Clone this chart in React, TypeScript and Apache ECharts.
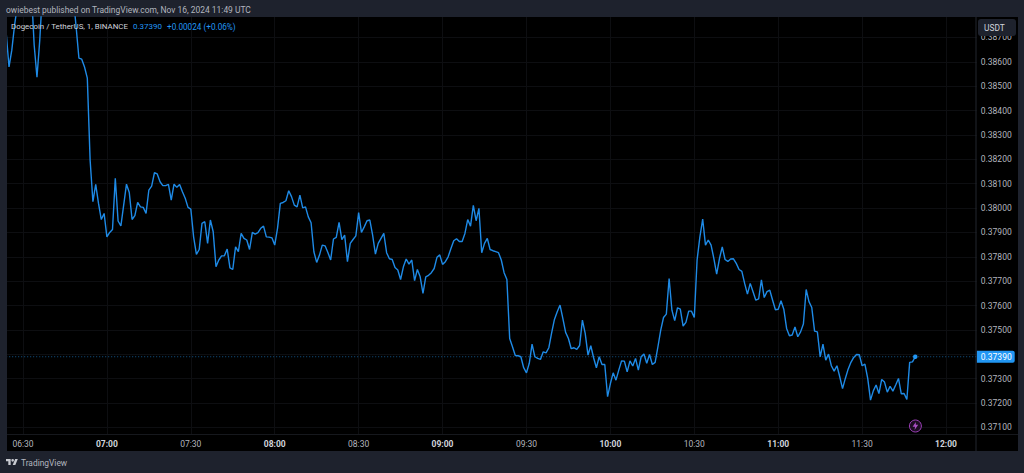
import React, { useEffect, useRef } from "react";
import * as echarts from "echarts";

const firstMinute = 6 * 60 + 24;
const lastMinute = 12 * 60 + 11;
const pad = (n: number) => String(n).padStart(2, "0");
const timeCategories: string[] = [];
for (let t = firstMinute; t <= lastMinute; t++) timeCategories.push(`${pad(Math.floor(t / 60))}:${pad(t % 60)}`);

// Close per minute, part by part
const prices0624 = [0.38718,0.38579,0.38648,0.38751,0.38833,0.38886,0.38920,0.38880,0.38860,0.38895,0.38669,0.38537,0.38689,0.38895,0.38950,0.38920,0.38990,0.38960,0.39010,0.38980,0.38930,0.38960,0.38910,0.38880,0.38866,0.38743,0.38615,0.38611,0.38579,0.38533,0.38197,0.38026,0.38097,0.38019,0.37953,0.37978];
const prices0700 = [0.37882,0.37900,0.37912,0.38122,0.37947,0.37927,0.38012,0.38098,0.38064,0.37953,0.37969,0.38023,0.38005,0.38003,0.37978,0.38074,0.38090,0.38145,0.38140,0.38108,0.38092,0.38092,0.38097,0.38033,0.38098,0.38085,0.38097,0.38067,0.38040,0.38003];
const prices0730 = [0.37996,0.37882,0.37810,0.37830,0.37937,0.37944,0.37855,0.37951,0.37903,0.37759,0.37787,0.37804,0.37804,0.37832,0.37755,0.37748,0.37841,0.37821,0.37896,0.37876,0.37869,0.37830,0.37900,0.37893,0.37899,0.37917,0.37926,0.37882,0.37881,0.37878];
const prices0800 = [0.37848,0.37917,0.38019,0.38023,0.38030,0.38071,0.38047,0.38012,0.38005,0.38053,0.38001,0.38005,0.37964,0.37940,0.37821,0.37777,0.37807,0.37848,0.37845,0.37818,0.37787,0.37873,0.37880,0.37941,0.37871,0.37889,0.37780,0.37855,0.37871,0.37886];
const prices0830 = [0.37981,0.37900,0.37923,0.37948,0.37951,0.37889,0.37811,0.37855,0.37876,0.37896,0.37817,0.37792,0.37789,0.37756,0.37746,0.37707,0.37759,0.37791,0.37770,0.37787,0.37702,0.37748,0.37718,0.37650,0.37718,0.37724,0.37735,0.37752,0.37798,0.37808];
const prices0900 = [0.37769,0.37780,0.37800,0.37834,0.37866,0.37874,0.37863,0.37863,0.37896,0.37953,0.37926,0.38011,0.37948,0.37999,0.37817,0.37855,0.37876,0.37830,0.37825,0.37821,0.37817,0.37787,0.37735,0.37707,0.37465,0.37431,0.37395,0.37394,0.37390,0.37345];
const prices0930 = [0.37324,0.37363,0.37442,0.37390,0.37383,0.37379,0.37410,0.37406,0.37427,0.37488,0.37543,0.37575,0.37602,0.37547,0.37490,0.37465,0.37423,0.37427,0.37420,0.37436,0.37540,0.37486,0.37397,0.37435,0.37386,0.37345,0.37390,0.37358,0.37358,0.37226];
const prices1000 = [0.37280,0.37324,0.37294,0.37335,0.37373,0.37372,0.37328,0.37373,0.37352,0.37383,0.37335,0.37390,0.37401,0.37363,0.37399,0.37358,0.37367,0.37431,0.37499,0.37551,0.37565,0.37711,0.37581,0.37538,0.37591,0.37585,0.37516,0.37531,0.37577,0.37577];
const prices1030 = [0.37551,0.37787,0.37882,0.37955,0.37848,0.37869,0.37848,0.37793,0.37729,0.37793,0.37841,0.37789,0.37781,0.37791,0.37792,0.37773,0.37748,0.37740,0.37691,0.37647,0.37691,0.37657,0.37622,0.37627,0.37705,0.37633,0.37657,0.37663,0.37622,0.37583];
const prices1100 = [0.37585,0.37620,0.37585,0.37506,0.37476,0.37479,0.37512,0.37472,0.37492,0.37524,0.37666,0.37616,0.37592,0.37495,0.37492,0.37390,0.37442,0.37376,0.37401,0.37353,0.37331,0.37353,0.37308,0.37259,0.37301,0.37339,0.37367,0.37387,0.37399,0.37398];
const prices1130 = [0.37353,0.37360,0.37301,0.37212,0.37250,0.37274,0.37239,0.37297,0.37286,0.37245,0.37269,0.37249,0.37274,0.37301,0.37238,0.37239,0.37215,0.37367,0.37369,0.37390];
const prices = [...prices0624,...prices0700,...prices0730,...prices0800,...prices0830,...prices0900,...prices0930,...prices1000,...prices1030,...prices1100,...prices1130];

const gridTicks = [0.371,0.372,0.373,0.374,0.375,0.376,0.377,0.378,0.379,0.38,0.381,0.382,0.383,0.384,0.385,0.386,0.387];
const priceLabels = [0.371,0.372,0.373,0.375,0.376,0.377,0.378,0.379,0.38,0.381,0.382,0.383,0.384,0.385,0.386,0.387];
const lastPrice = 0.3739;
const lastPriceLine = timeCategories.map(() => lastPrice);
const headerText = "owiebest published on TradingView.com, Nov 16, 2024 11:49 UTC";
const legendTitle = "Dogecoin / TetherUS, 1, BINANCE";
const legendPrice = "0.37390";
const legendChange = "+0.00024 (+0.06%)";

const FONT = "Roboto, sans-serif";
const BLUE = "#2196f3";
const GRID = "#0d0e11";
const PRICE_MIN = 0.37073;
const PRICE_MAX = 0.38784;

echarts.graphic.registerShape("tvlogo", echarts.graphic.extendPath("M14 22H7V11H0V4h14zM28 22h-8l7.5-18h8zM24 8a4 4 0 1 1-8 0a4 4 0 1 1 8 0z", {}));
echarts.graphic.registerShape("bolt", echarts.graphic.extendPath("M13 2L5 14h6l-1 8L19 9h-6z", {}));

export default function App() {
  const ref = useRef<HTMLDivElement>(null);
  useEffect(() => {
    const chart = echarts.init(ref.current!, undefined, { renderer: "svg" });
    const isHalfHour = (_: number, v: string) => v.endsWith(":00") || v.endsWith(":30");
    chart.setOption({
      animation: false,
      backgroundColor: "#1e222d",
      grid: { left: 6.2, right: 47.2, top: 17, bottom: 39, containLabel: false },
      xAxis: {
        type: "category",
        data: timeCategories,
        boundaryGap: false,
        axisLine: { show: false },
        axisTick: { show: false },
        splitLine: { show: true, interval: isHalfHour, lineStyle: { color: GRID, width: 1 } },
        axisLabel: {
          interval: isHalfHour,
          margin: 5,
          hideOverlap: false,
          fontFamily: FONT,
          fontSize: 8.5,
          color: "#b2b5be",
          formatter: (v: string) => (v.endsWith(":00") ? `{b|${v}}` : v),
          rich: { b: { fontFamily: FONT, fontSize: 8.5, fontWeight: "bold", color: "#d1d4dc" } },
        },
      },
      yAxis: [
        {
          type: "value",
          position: "right",
          min: PRICE_MIN,
          max: PRICE_MAX,
          scale: true,
          axisLine: { show: false },
          axisTick: { show: false, customValues: gridTicks },
          splitLine: { show: true, lineStyle: { color: GRID, width: 1 } },
          axisLabel: {
            customValues: priceLabels,
            margin: 4,
            fontFamily: FONT,
            fontSize: 8.5,
            color: "#b2b5be",
            formatter: (v: number) => v.toFixed(5),
          },
        },
        {
          type: "value",
          position: "right",
          min: PRICE_MIN,
          max: PRICE_MAX,
          scale: true,
          axisLine: { show: false },
          axisTick: { show: false, customValues: [lastPrice] },
          splitLine: { show: false },
          axisLabel: {
            customValues: [lastPrice],
            margin: 0,
            fontFamily: FONT,
            fontSize: 8.5,
            color: "#ffffff",
            backgroundColor: BLUE,
            padding: [2, 3, 1, 4],
            borderRadius: [0, 2, 2, 0],
            formatter: (v: number) => v.toFixed(5),
          },
        },
      ],
      series: [
        {
          type: "line",
          data: lastPriceLine,
          symbol: "none",
          silent: true,
          lineStyle: { color: "#14578d", type: [1, 2], width: 1 },
        },
        {
          type: "line",
          data: prices,
          symbol: "none",
          clip: true,
          lineStyle: { color: "#1e8ae6", width: 1.4 },
          markPoint: {
            silent: true,
            symbol: "circle",
            symbolSize: 4.5,
            itemStyle: { color: BLUE },
            label: { show: false },
            data: [{ coord: [timeCategories[prices.length - 1], lastPrice] }],
          },
        },
      ],
      graphic: [
        { type: "rect", z: -10, shape: { x: 7, y: 17, width: 1011, height: 434 }, style: { fill: "#000" } },
        { type: "rect", z: 50, shape: { x: 0, y: 0, width: 7, height: 473 }, style: { fill: "#1e222d" } },
        { type: "line", z: 50, shape: { x1: 976, y1: 17, x2: 976, y2: 451 }, style: { stroke: "#23262e", lineWidth: 1 } },
        { type: "line", z: 50, shape: { x1: 7, y1: 434.5, x2: 1018, y2: 434.5 }, style: { stroke: "#16181d", lineWidth: 1 } },
        { type: "text", z: 60, x: 6, y: 9.5, style: { text: headerText, fill: "#b2b5be", font: `8.45px ${FONT}`, textVerticalAlign: "middle" } },
        { type: "text", z: 60, x: 11, y: 26.5, style: { text: legendTitle, fill: "#d1d4dc", font: `7.9px ${FONT}`, textVerticalAlign: "middle" } },
        { type: "text", z: 60, x: 133, y: 26.5, style: { text: legendPrice, fill: BLUE, font: `8px ${FONT}`, textVerticalAlign: "middle" } },
        { type: "text", z: 60, x: 167, y: 26.5, style: { text: legendChange, fill: BLUE, font: `8.2px ${FONT}`, textVerticalAlign: "middle" } },
        { type: "rect", z: 60, shape: { x: 978, y: 19, width: 38, height: 17, r: 3 }, style: { fill: "#1e222d" } },
        { type: "text", z: 61, x: 984, y: 27.5, style: { text: "USDT", fill: "#d1d4dc", font: `8.4px ${FONT}`, textVerticalAlign: "middle" } },
        { type: "tvlogo", z: 60, x: 6, y: 457.7, scaleX: 1 / 3, scaleY: 1 / 3, style: { fill: "#c8cad0" } },
        { type: "text", z: 60, x: 21, y: 462.5, style: { text: "TradingView", fill: "#b2b5be", font: `8.4px ${FONT}`, textVerticalAlign: "middle" } },
        { type: "circle", z: 60, shape: { cx: 915.4, cy: 426, r: 6 }, style: { fill: "#1c0d22", stroke: "#9c3fb8", lineWidth: 1 } },
        { type: "bolt", z: 61, x: 910.6, y: 421.2, scaleX: 0.4, scaleY: 0.4, style: { fill: "#a94fc4" } },
      ],
    });
    return () => chart.dispose();
  }, []);
  return <div ref={ref} style={{ position: "fixed", left: 0, top: 0, width: 1024, height: 473 }} />;
}
